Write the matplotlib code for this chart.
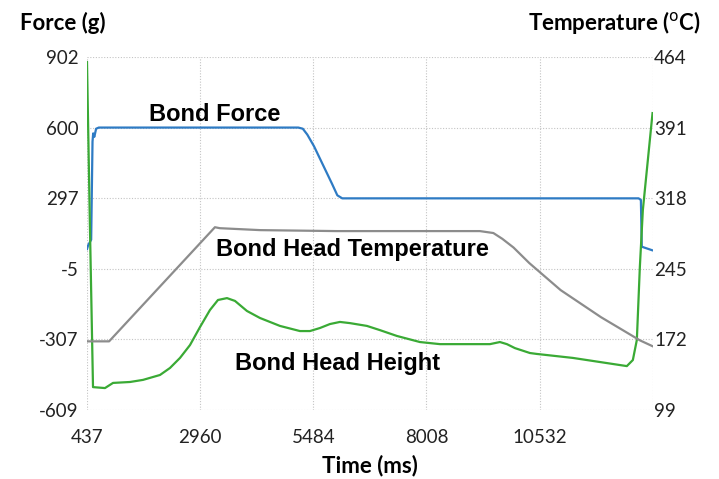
import matplotlib
matplotlib.use("Agg")
import matplotlib.pyplot as plt

plt.rcParams['font.family'] = ['Lato', 'DejaVu Sans']

# tick values
time_ticks = [437, 2960, 5484, 8008, 10532]
force_ticks = [-609, -307, -5, 297, 600, 902]
temp_ticks = [99, 172, 245, 318, 391, 464]

# Bond force (g)
force_t = [437, 460, 530, 560, 575, 600, 640, 700, 5150, 5250, 5350, 5500, 5900, 6020,
           6130, 12740, 12790, 12810, 13040]
force_v = [80, 95, 120, 540, 575, 560, 595, 600, 600, 595, 570, 520, 360, 310,
           297, 297, 290, 90, 75]

# Bond head temperature (C)
temp_t = [437, 930, 3290, 3400, 4300, 6000, 8000, 9200, 9500, 9700, 9950, 10300,
          11000, 11900, 12770, 13050]
temp_v = [170, 170, 288, 287, 285, 284, 284, 284, 282, 276, 267, 251,
          223, 195, 171, 165]

# Bond head height (plotted on force scale)
height_t = [437, 500, 571, 838, 1017, 1396, 1686, 2065, 2288, 2511, 2734, 2957, 3179,
            3358, 3559, 3737, 4004, 4294, 4740, 5186, 5409, 5632, 5855, 6078, 6301,
            6680, 6970, 7349, 7862, 8308, 9423, 9646, 9802, 9981, 10315, 10471, 11273,
            12477, 12611, 12700, 12767, 12834, 13050]
height_v = [880, 200, -511, -515, -493, -489, -480, -459, -429, -386, -331, -254, -181,
            -138, -130, -142, -185, -215, -249, -271, -271, -258, -241, -232, -237,
            -249, -267, -292, -318, -327, -327, -318, -327, -344, -365, -369, -386,
            -421, -395, -309, 3, 247, 662]

fig = plt.figure(figsize=(7.19, 4.79), dpi=100)
ax = fig.add_axes([0.121, 0.144, 0.787, 0.737])
ax2 = ax.twinx()

ax.plot(force_t, force_v, color="#2E7BC4", lw=1.6, zorder=3)
ax.plot(height_t, height_v, color="#3AAA35", lw=1.6, zorder=3)
ax2.plot(temp_t, temp_v, color="#8C8C8C", lw=1.6)

ax.set_xlim(437, 13057)
ax.set_ylim(-609, 902)
ax2.set_ylim(99, 464)
ax.set_xticks(time_ticks)
ax.set_yticks(force_ticks)
ax2.set_yticks(temp_ticks)
ax.set_xticklabels([str(t) for t in time_ticks])
ax.set_yticklabels([str(v) for v in force_ticks])
ax2.set_yticklabels([str(v) for v in temp_ticks])

ax.grid(True, linestyle=(0, (1, 1.5)), color="#C4C4C4", lw=0.8)
ax.axvline(13057, linestyle=(0, (1, 1.5)), color="#C4C4C4", lw=0.8)
for a in (ax, ax2):
    for s in a.spines.values():
        s.set_visible(False)
    a.tick_params(length=0, labelsize=13.5, colors="#222222")
ax.tick_params(axis='y', pad=6)
ax.tick_params(axis='x', pad=14)
ax2.tick_params(axis='y', pad=1)

fig.text(0.028, 0.953, "Force (g)", fontsize=16, fontweight="bold", va="center")
fig.text(0.975, 0.953, r"Temperature ($^{\mathrm{o}}$C)", fontsize=16,
         fontweight="bold", va="center", ha="right")
ax.set_xlabel("Time (ms)", fontsize=16, fontweight="bold", labelpad=6)

ann = dict(fontsize=17, fontweight="bold", family="Liberation Sans", ha="center",
           va="center", zorder=5)
ax.text(3291, 658, "Bond Force", **ann)
ax.text(6346, 76, "Bond Head Temperature", **ann)
ax.text(6034, -412, "Bond Head Height", **ann)

fig.savefig("out.png", dpi=100)
